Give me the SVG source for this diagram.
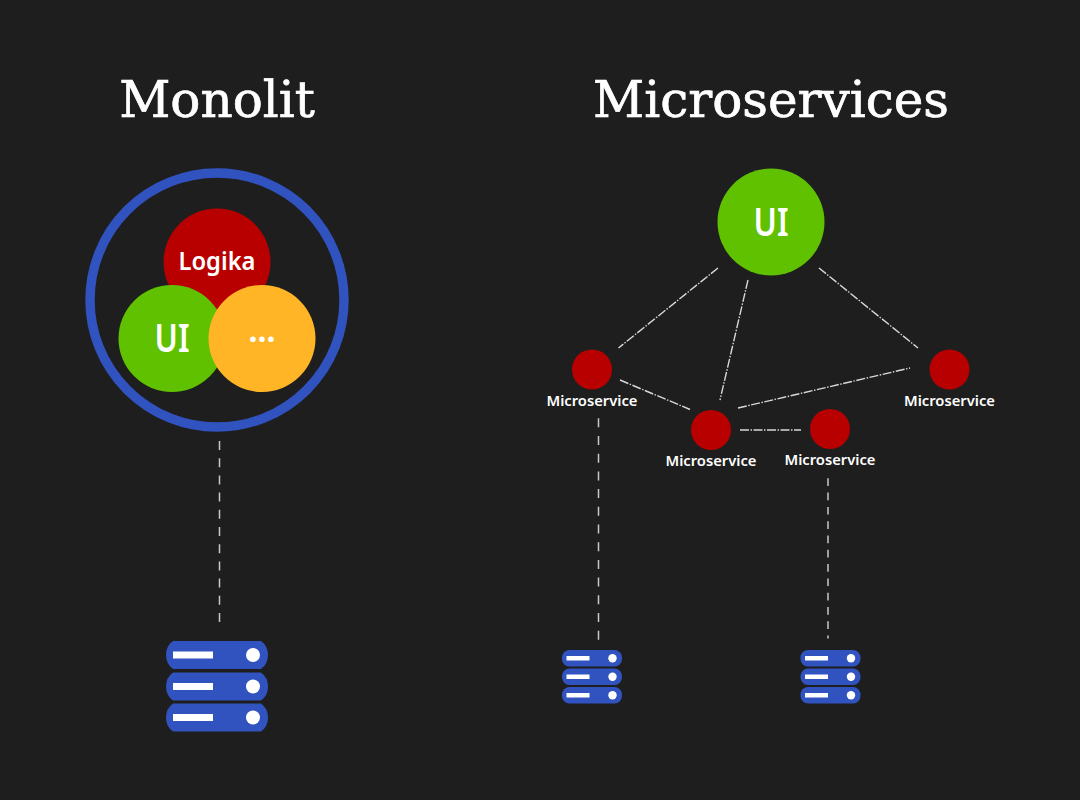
<svg xmlns="http://www.w3.org/2000/svg" xmlns:xlink="http://www.w3.org/1999/xlink" width="1080" height="800" viewBox="0 0 1080 800">
<style>
.title{font-family:"DejaVu Serif","Liberation Serif",serif;font-size:50px;fill:#fff;stroke:#fff;stroke-width:.7;text-anchor:middle}
.lab{font-family:"Noto Sans","Open Sans",sans-serif;fill:#fff;text-anchor:middle;font-weight:600}
.ms{font-size:15px}
.dash{fill:none;stroke:#c8c8c8;stroke-width:1.5}
.dd{fill:none;stroke:#d8d8d8;stroke-width:1.4;stroke-dasharray:9 1.500 1.500 1.500}
.red{fill:#b80000}.green{fill:#5fc100}.orange{fill:#ffb526}.blue{fill:#3153c0}
.w{fill:#fff}
</style>
<defs>
<g id="srv">
<path class="blue" d="M7 0H95Q102 5 102 14Q102 23 95 28H7Q0 23 0 14Q0 5 7 0Z"/>
<rect class="w" x="7" y="10.500" width="40" height="7"/>
<circle class="w" cx="87" cy="14" r="7"/>
</g>
<g id="srvs">
<rect class="blue" x="0" y="0" width="60" height="16.500" rx="7.500"/>
<rect class="w" x="4.500" y="6" width="23" height="4.500"/>
<circle class="w" cx="50.500" cy="8.250" r="4.200"/>
</g>
</defs>
<rect width="1080" height="800" fill="#1e1e1e"/>
<g id="connectors">
<path class="dash" stroke-dasharray="9 8.200" d="M219.500 441V622"/>
<path class="dash" stroke-dasharray="9 8.700" d="M598.500 418.300V640"/>
<path class="dash" stroke-dasharray="7.700 6.600" d="M828 478.300V638.500"/>
<path class="dd" d="M718 268L618.500 348"/>
<path class="dd" d="M748 280L720 400"/>
<path class="dd" d="M819 268L918 348"/>
<path class="dd" d="M620 380L690 409.500"/>
<path class="dd" d="M738 408L910 368"/>
<path class="dd" d="M740 430H801"/>
</g>
<text class="title" x="217" y="117" id="title-monolit">Monolit</text>
<text class="title" x="771" y="117" id="title-micro">Microservices</text>
<g id="monolith-ring"><circle cx="217" cy="300" r="127" fill="none" stroke="#3153c0" stroke-width="9.400"/></g>
<g id="monolith-logika"><circle class="red" cx="217" cy="262" r="53.500"/><text class="lab" x="217" y="270" font-size="25" textLength="77" lengthAdjust="spacingAndGlyphs">Logika</text></g>
<g id="monolith-ui"><circle class="green" cx="172" cy="338.500" r="53.500"/><text class="lab" x="172" y="352" font-size="40" textLength="35" lengthAdjust="spacingAndGlyphs">UI</text></g>
<g id="monolith-more"><circle class="orange" cx="262" cy="338.500" r="53.500"/><text class="lab" x="262" y="342" font-size="32" style="font-weight:700">...</text></g>
<g id="monolith-server">
<use xlink:href="#srv" href="#srv" x="166" y="641"/>
<use xlink:href="#srv" href="#srv" x="166" y="672.500"/>
<use xlink:href="#srv" href="#srv" x="166" y="703.500"/>
</g>
<g id="ms-ui"><circle class="green" cx="771" cy="222" r="53.500"/><text class="lab" x="771" y="236" font-size="40" textLength="35" lengthAdjust="spacingAndGlyphs">UI</text></g>
<g id="ms-a"><circle class="red" cx="592" cy="369.500" r="20"/><text class="lab ms" x="592" y="406" textLength="91" lengthAdjust="spacingAndGlyphs">Microservice</text></g>
<g id="ms-b"><circle class="red" cx="711" cy="430" r="20"/><text class="lab ms" x="711" y="466" textLength="91" lengthAdjust="spacingAndGlyphs">Microservice</text></g>
<g id="ms-c"><circle class="red" cx="830" cy="429" r="20"/><text class="lab ms" x="830" y="465" textLength="91" lengthAdjust="spacingAndGlyphs">Microservice</text></g>
<g id="ms-d"><circle class="red" cx="949.500" cy="369.500" r="20"/><text class="lab ms" x="949.500" y="406" textLength="91" lengthAdjust="spacingAndGlyphs">Microservice</text></g>
<g id="ms-server-a">
<use xlink:href="#srvs" href="#srvs" x="562" y="650"/>
<use xlink:href="#srvs" href="#srvs" x="562" y="668.500"/>
<use xlink:href="#srvs" href="#srvs" x="562" y="687"/>
</g>
<g id="ms-server-b">
<use xlink:href="#srvs" href="#srvs" x="800.500" y="650"/>
<use xlink:href="#srvs" href="#srvs" x="800.500" y="668.500"/>
<use xlink:href="#srvs" href="#srvs" x="800.500" y="687"/>
</g>
</svg>
